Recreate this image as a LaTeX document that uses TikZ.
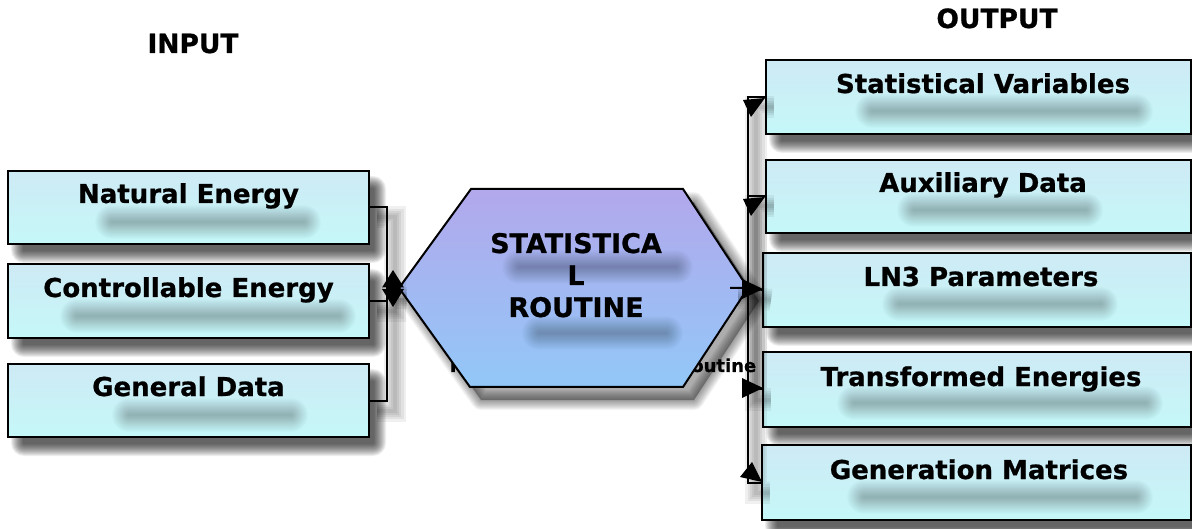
\documentclass[tikz,border=0pt]{standalone}
\usepackage{fontspec}
\setmainfont{DejaVu Sans}
\newfontfamily\heavyfont{DejaVu Sans}[BoldFeatures={FakeBold=0.8}]
\usetikzlibrary{calc}

\definecolor{boxtop}{RGB}{206,234,245}
\definecolor{boxbot}{RGB}{197,248,248}
\definecolor{hextop}{RGB}{178,168,236}
\definecolor{hexbot}{RGB}{146,200,248}

% soft drop shadow of a rectangle: core (x1,y1)-(x2,y2), grown step by step
\newcommand\softrect[5]{%
  \foreach \k in {1,...,13}{%
    \fill[black, opacity=#5, rounded corners=\k pt] ({#1-\k},{#2-\k}) rectangle ({#3+\k},{#4+\k});}}
% soft streak along a line
\newcommand\softstreak[4]{%
  \foreach \k in {2,4,...,34}{%
    \draw[black, opacity=0.015, line width=\k pt, line cap=round] (#1,#2) -- (#3,#4);}}

\tikzset{
  databox/.style={draw=black, line width=2pt, rectangle, inner sep=0pt, outer sep=0pt,
    top color=boxtop, bottom color=boxbot},
  lbl/.style={font=\heavyfont\bfseries\fontsize{26}{30}\selectfont, anchor=base, inner sep=0pt},
  head/.style={font=\heavyfont\bfseries\fontsize{26.5}{30}\selectfont, anchor=base, inner sep=0pt},
  hextext/.style={font=\heavyfont\bfseries\fontsize{27}{30}\selectfont, anchor=base, inner sep=0pt},
  lineshade/.style={draw=black, opacity=0.06, line width=#1,
    transform canvas={shift={(8pt,-10pt)}}},
  conn/.style={line width=2pt, black,
    preaction={lineshade=22pt}, preaction={lineshade=17pt}, preaction={lineshade=12pt},
    preaction={lineshade=8pt}, preaction={lineshade=4pt}},
  tipfill/.style={fill=black},
}

\begin{document}
\begin{tikzpicture}[x=1pt, y=-1pt]
\useasboundingbox (0,0) rectangle (1192,529);
\fill[white] (0,0) rectangle (1192,529);

% headings
\node[head] (inH)  at (193,53) {INPUT};
\node[head] (outH) at (997,28) {OUTPUT};

% fixed points of the connector network
\coordinate (hexW) at (399,288);
\coordinate (hexE) at (748,288);
\coordinate (lbus) at (387,288);
\coordinate (stub) at (730,288);

% drop shadows of the boxes
\softrect{24}{189}{373}{250}{0.065}
\softrect{24}{282}{373}{344}{0.065}
\softrect{24}{382}{373}{443}{0.065}
\softrect{782}{78}{1200}{140}{0.065}
\softrect{782}{178}{1200}{239}{0.065}
\softrect{779}{271}{1200}{333}{0.065}
\softrect{779}{370}{1200}{433}{0.065}
\softrect{778}{463}{1200}{526}{0.065}

% drop shadow of the hexagon
\begin{scope}[shift={(11,13)}]
  \fill[black, opacity=0.32] (399,288) -- (471,189) -- (683,189) -- (748,288) -- (683,387) -- (470,387) -- cycle;
  \foreach \k in {2,4,...,20}{%
    \draw[black, opacity=0.045, line width=\k pt, line join=round]
      (399,288) -- (471,189) -- (683,189) -- (748,288) -- (683,387) -- (470,387) -- cycle;}
\end{scope}

% input boxes
\node[databox, minimum width=361pt, minimum height=73pt] (nat) at (188.5,207.5) {};
\node[databox, minimum width=361pt, minimum height=74pt] (ce)  at (188.5,301) {};
\node[databox, minimum width=361pt, minimum height=73pt] (gd)  at (188.5,400.5) {};

% output boxes
\node[databox, minimum width=425pt, minimum height=74pt] (sv)  at (978.5,97) {};
\node[databox, minimum width=425pt, minimum height=73pt] (ad)  at (978.5,196.5) {};
\node[databox, minimum width=428pt, minimum height=74pt] (ln)  at (977,290) {};
\node[databox, minimum width=428pt, minimum height=75pt] (te)  at (977,389.5) {};
\node[databox, minimum width=429pt, minimum height=75pt] (gm)  at (976.5,482.5) {};

% soft streaks under the box labels
\softstreak{112}{222}{304}{222}
\softstreak{77}{316}{339}{316}
\softstreak{129}{415}{291}{415}
\softstreak{872}{111}{1136}{111}
\softstreak{914}{210}{1086}{210}
\softstreak{899}{304}{1101}{304}
\softstreak{854}{403}{1146}{403}
\softstreak{864}{497}{1136}{497}

% box labels
\node[lbl] (natT) at (188.5,203) {Natural Energy};
\node[lbl] (ceT)  at (188.5,297) {Controllable Energy};
\node[lbl] (gdT)  at (188.5,396) {General Data};
\node[lbl] (svT)  at (983,93) {Statistical Variables};
\node[lbl] (adT)  at (983,192) {Auxiliary Data};
\node[lbl] (lnT)  at (981,286) {LN3 Parameters};
\node[lbl] (teT)  at (981,386) {Transformed Energies};
\node[lbl] (gmT)  at (979,479) {Generation Matrices};

% label lying behind the hexagon
\node[font=\heavyfont\bfseries\fontsize{18}{22}\selectfont, anchor=base, inner sep=0pt] (per) at (603,372) {Parameter Estimation Routine};

% central routine hexagon
\path[draw=black, line width=2pt, top color=hextop, bottom color=hexbot]
  (hexW) -- (471,189) -- (683,189) -- (hexE) -- (683,387) -- (470,387) -- cycle;
\softstreak{519}{267}{676}{267}
\softstreak{539}{333}{666}{333}
\node[hextext] (h1) at (576,253) {STATISTICA};
\node[hextext] (h2) at (576,285) {L};
\node[hextext] (h3) at (576,317) {ROUTINE};

% input connectors
\draw[conn] (nat.east) -| (lbus);
\draw[conn] (ce.east) -| (lbus);
\draw[conn] (gd.east) -| (lbus);
\draw[conn] (lbus) -- (hexW);
\fill[tipfill] (393,270) -- (404,287.5) -- (382,287.5) -- cycle;
\fill[tipfill] (382,289) -- (404,289) -- (393,307) -- cycle;

% output connectors
\draw[conn] (hexE) |- (sv.west);
\draw[conn] (hexE) |- (ad.west);
\draw[conn] (stub) -- (hexE) -- (ln.west);
\draw[conn] (hexE) |- (te.west);
\draw[conn] (hexE) |- (gm.west);
\fill[tipfill] (743,100) -- (765,98) -- (751,117) -- cycle;
\fill[tipfill] (743,199) -- (765,197) -- (751,216) -- cycle;
\fill[tipfill] (742,279) -- (763,289) -- (742,299) -- cycle;
\fill[tipfill] (742,378) -- (763,388) -- (742,398) -- cycle;
\fill[tipfill] (740,477) -- (762,482) -- (752,462) -- cycle;
\end{tikzpicture}
\end{document}
